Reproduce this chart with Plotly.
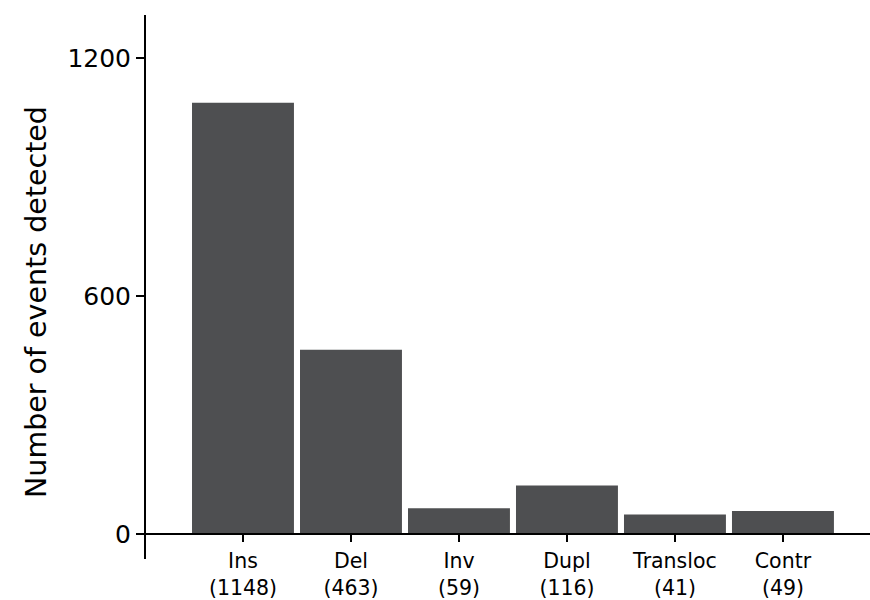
import plotly.graph_objects as go

categories = ["Ins", "Del", "Inv", "Dupl", "Transloc", "Contr"]
counts = [1148, 463, 59, 116, 41, 49]
bar_values = [1087, 465, 66, 123, 50, 59]
y_tickvals = [0, 600, 1200]

tick_text = [f"{c}<br>({n})" for c, n in zip(categories, counts)]
x_pos = list(range(len(categories)))

Y_MIN, Y_MAX = -62, 1308
FONT = "DejaVu Sans"

L, T, W, H = 146, 15, 724, 544

fig = go.Figure(go.Bar(
    x=x_pos, y=bar_values,
    marker=dict(color="#4e4f51", line=dict(width=0)),
    width=0.944,
))

fig.update_layout(
    width=870, height=600,
    margin=dict(l=L, r=870 - L - W, t=T, b=600 - T - H, autoexpand=False),
    plot_bgcolor="white", paper_bgcolor="white",
    showlegend=False,
    font=dict(family=FONT, color="black"),
    xaxis=dict(
        range=[-0.898, 5.806],
        tickmode="array", tickvals=x_pos, ticktext=tick_text,
        ticks="outside", ticklen=7, tickwidth=1.5, tickcolor="black",
        showline=True, linecolor="black", linewidth=2,
        showgrid=False, zeroline=False,
        anchor="free", position=-Y_MIN / (Y_MAX - Y_MIN),
        tickfont=dict(family=FONT, size=20.5, color="black"),
        ticklabelstandoff=1,
        automargin=False,
    ),
    yaxis=dict(
        range=[Y_MIN, Y_MAX],
        tickmode="array", tickvals=y_tickvals,
        ticks="outside", ticklen=8, tickwidth=1.5, tickcolor="black",
        showline=True, linecolor="black", linewidth=2,
        showgrid=False, zeroline=False,
        tickfont=dict(family=FONT, size=25, color="black"),
        automargin=False,
    ),
    annotations=[dict(
        text="Number of events detected",
        xref="paper", yref="paper",
        x=(36 - 146) / W, y=1 - (302 - 15) / H,
        xanchor="center", yanchor="middle",
        textangle=-90, showarrow=False,
        font=dict(family=FONT, size=28.5, color="black"),
    )],
)

fig.write_html(
    "out.html",
    config={"displayModeBar": False},
    post_script="document.body.style.margin='0';document.body.style.overflow='hidden';",
)
